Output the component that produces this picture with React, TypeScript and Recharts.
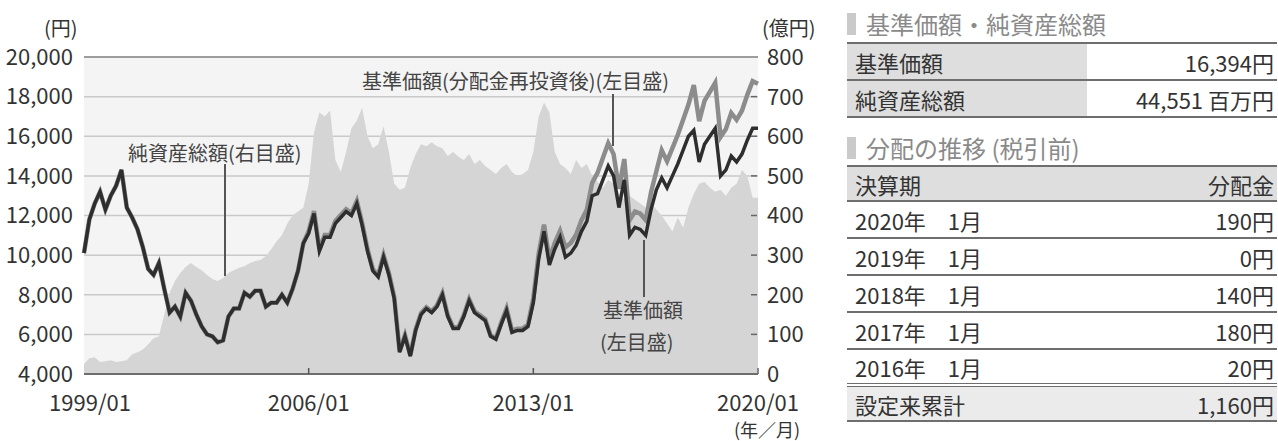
import React from 'react';
import {
  ComposedChart,
  Area,
  Line,
  XAxis,
  YAxis,
  CartesianGrid,
  ReferenceLine,
} from 'recharts';

const FONT = '"Noto Sans CJK JP", "Noto Sans", sans-serif';

// 隔月 (1,3,5,7,9,11月) 1999/01 〜 2020/01
const months: string[] = [];
for (let y = 1999; y <= 2020; y++) {
  for (const m of ['01', '03', '05', '07', '09', '11']) {
    if (y === 2020 && m !== '01') break;
    months.push(`${y}/${m}`);
  }
}

// 基準価額 (円)
const nav = [
  10100, 11800, 12600, 13200, 12300, 13000,
  13500, 14300, 12400, 11900, 11300, 10400,
  9300, 9000, 9600, 8300, 7100, 7400,
  6900, 8100, 7700, 7000, 6400, 6000,
  5900, 5600, 5700, 6900, 7300, 7300,
  8100, 7900, 8200, 8200, 7400, 7600,
  7600, 8000, 7600, 8300, 9200, 10600,
  11100, 12100, 10200, 10900, 10900, 11600,
  11900, 12200, 12000, 12600, 11500, 10200,
  9200, 8900, 9900, 9000, 7800, 5100,
  5900, 4900, 6200, 7000, 7300, 7100,
  7400, 8000, 6900, 6300, 6300, 6900,
  7700, 7100, 6900, 6700, 5900, 5750,
  6500, 7200, 6100, 6200, 6200, 6400,
  7600, 9800, 11200, 9500, 10300, 10900,
  9900, 10100, 10500, 11200, 11700, 13000,
  13100, 13800, 14500, 14000, 12400, 13800,
  11000, 11400, 11300, 11000, 12300, 13300,
  13900, 13400, 14000, 14600, 15300, 16000,
  16300, 14700, 15600, 16000, 16400, 14000,
  14300, 15000, 14700, 15100, 15800, 16400,
  16400,
];

// 基準価額 (分配金再投資後) (円)
const navReinvested = [
  10100, 11800, 12600, 13200, 12300, 13000,
  13500, 14300, 12400, 11900, 11300, 10400,
  9300, 9000, 9600, 8300, 7100, 7400,
  6900, 8100, 7700, 7000, 6400, 6000,
  5900, 5600, 5700, 6900, 7300, 7300,
  8100, 7900, 8200, 8200, 7400, 7600,
  7600, 8000, 7600, 8300, 9200, 10600,
  11210, 12220, 10300, 11010, 11010, 11720,
  12020, 12320, 12120, 12730, 11620, 10300,
  9290, 8990, 10000, 9090, 7880, 5150,
  5960, 4950, 6260, 7070, 7370, 7170,
  7470, 8080, 6970, 6360, 6360, 6970,
  7780, 7170, 6970, 6770, 5960, 5810,
  6600, 7310, 6190, 6290, 6290, 6500,
  7830, 10090, 11540, 9790, 10610, 11230,
  10400, 10610, 11030, 11760, 12290, 13650,
  14150, 14900, 15650, 15100, 13350, 14850,
  11770, 12200, 12090, 11770, 13160, 14230,
  15290, 14740, 15400, 16060, 16830, 17600,
  18580, 16760, 17780, 18240, 18700, 15960,
  16370, 17180, 16830, 17290, 18090, 18780,
  18650,
];

// 純資産総額 (億円)
const netAssets = [
  25, 40, 42, 30, 32, 35,
  30, 32, 35, 50, 55, 62,
  75, 90, 95, 150, 205, 235,
  255, 270, 280, 270, 262, 250,
  240, 235, 242, 255, 262, 268,
  272, 280, 285, 288, 298, 315,
  335, 350, 380, 400, 410, 420,
  480, 610, 660, 650, 665, 540,
  510, 560, 620, 640, 672, 600,
  570, 580, 625, 560, 480, 465,
  470, 520, 555, 580, 575, 585,
  575, 570, 550, 560, 548, 540,
  555, 530, 540, 525, 515, 505,
  520, 530, 510, 500, 505, 515,
  560, 650, 685, 660, 560, 530,
  520, 505, 540, 520, 530, 500,
  485, 470, 490, 480, 455, 440,
  450, 440, 430, 420, 430, 415,
  400, 380, 360, 395, 370, 420,
  455, 480, 485, 470, 460, 465,
  450, 470, 480, 515, 500, 445,
  445,
];

const leftTicks = [4000, 6000, 8000, 10000, 12000, 14000, 16000, 18000, 20000];
const rightTicks = [0, 100, 200, 300, 400, 500, 600, 700, 800];

const summaryLabels = ['基準価額', '純資産総額'];
const summaryValues = ['16,394円', '44,551 百万円'];

const distPeriods = ['2020年\u30001月', '2019年\u30001月', '2018年\u30001月', '2017年\u30001月', '2016年\u30001月'];
const distAmounts = ['190円', '0円', '140円', '180円', '20円'];
const distTotalLabel = '設定来累計';
const distTotal = '1,160円';

const data = months.map((month, i) => ({
  month,
  nav: nav[i],
  reinvested: navReinvested[i],
  assets: netAssets[i],
}));

const TEXT = '#333';
const LINE = '#6e6e6e';

const XTick = (props: any) => {
  const { x, y, payload } = props;
  const v = payload.value as string;
  const dx = v === '1999/01' ? 6 : 0;
  const inner = v === '2006/01' || v === '2013/01';
  return (
    <g>
      {inner && <line x1={x} x2={x} y1={y - 6} y2={y} stroke="#555" strokeWidth={1.5} />}
      <text x={x + dx} y={y + 37} textAnchor="middle" fontSize={22} fill={TEXT} fontFamily={FONT}>
        {v}
      </text>
    </g>
  );
};

const RightTick = (props: any) => {
  const { x, y, payload } = props;
  const v = payload.value as number;
  return (
    <g>
      {v > 0 && v < 800 && <line x1={x - 7} x2={x - 1} y1={y} y2={y} stroke="#666" strokeWidth={1.5} />}
      {v === 0 && <line x1={x} x2={x} y1={y - 6} y2={y} stroke="#666" strokeWidth={1.5} />}
      <text x={x + 9} y={y} dy="0.36em" fontSize={22} fill={TEXT} fontFamily={FONT}>
        {v}
      </text>
    </g>
  );
};

const abs = (left: number, top: number, extra: React.CSSProperties = {}): React.CSSProperties => ({
  position: 'absolute',
  left,
  top,
  whiteSpace: 'nowrap',
  ...extra,
});

const note: React.CSSProperties = { fontSize: 20, color: '#444', lineHeight: '26px' };

const Leader = ({ x, y1, y2 }: { x: number; y1: number; y2: number }) => (
  <div style={abs(x, y1, { width: 1.5, height: y2 - y1, background: '#555' })} />
);

const SectionTitle = ({ top, text }: { top: number; text: string }) => (
  <div style={abs(0, top, { display: 'flex', alignItems: 'center', height: 26 })}>
    <div style={{ width: 9, height: 22, background: '#cacaca', marginRight: 10 }} />
    <span style={{ fontSize: 24, color: '#8a8a8a', lineHeight: '26px' }}>{text}</span>
  </div>
);

const cell: React.CSSProperties = {
  fontSize: 22,
  color: TEXT,
  display: 'flex',
  alignItems: 'center',
  boxSizing: 'border-box',
};

export default function App() {
  return (
    <div style={abs(0, 0, { width: 1278, height: 441, background: '#fff', fontFamily: FONT, overflow: 'hidden' })}>
      <ComposedChart
        width={830}
        height={441}
        data={data}
        margin={{ top: 57, right: 0, left: 0, bottom: 37 }}
        style={{ fontFamily: FONT }}
      >
        <CartesianGrid
          yAxisId="left"
          vertical={false}
          stroke="#c9c9c9"
          strokeWidth={1.5}
          fill="#f4f4f4"
          fillOpacity={1}
        />
        <XAxis
          dataKey="month"
          interval={41}
          height={30}
          tickSize={0}
          tickMargin={0}
          tickLine={false}
          axisLine={{ stroke: LINE, strokeWidth: 2 }}
          tick={<XTick />}
        />
        <YAxis
          yAxisId="left"
          domain={[4000, 20000]}
          ticks={leftTicks}
          width={84}
          tickSize={0}
          tickMargin={11}
          tickLine={false}
          axisLine={false}
          tickFormatter={(v: number) => v.toLocaleString('en-US')}
          tick={{ fontSize: 22, fill: TEXT, fontFamily: FONT }}
          allowDataOverflow
        />
        <YAxis
          yAxisId="right"
          orientation="right"
          domain={[0, 800]}
          ticks={rightTicks}
          width={72}
          tickSize={0}
          tickMargin={0}
          tickLine={false}
          axisLine={false}
          tick={<RightTick />}
          allowDataOverflow
        />
        <Area
          yAxisId="right"
          type="linear"
          dataKey="assets"
          stroke="none"
          fill="#d5d5d5"
          fillOpacity={1}
          isAnimationActive={false}
        />
        <ReferenceLine yAxisId="left" y={20000} stroke="#8a8a8a" strokeWidth={1.5} />
        <Line
          yAxisId="left"
          type="linear"
          dataKey="reinvested"
          stroke="#8c8c8c"
          strokeWidth={4.5}
          dot={false}
          isAnimationActive={false}
        />
        <Line
          yAxisId="left"
          type="linear"
          dataKey="nav"
          stroke="#2e2e2e"
          strokeWidth={3.5}
          dot={false}
          isAnimationActive={false}
        />
      </ComposedChart>

      {/* 軸の単位 */}
      <div style={abs(44, 13, { fontSize: 20, color: TEXT })}>(円)</div>
      <div style={abs(762, 13, { fontSize: 20, color: TEXT })}>(億円)</div>
      <div style={abs(734, 419, { fontSize: 18, color: TEXT, lineHeight: '20px' })}>(年／月)</div>

      {/* 注記 */}
      <div style={abs(128, 140, note)}>純資産総額(右目盛)</div>
      <Leader x={224} y1={164} y2={276} />
      <div style={abs(362, 68, note)}>基準価額(分配金再投資後)(左目盛)</div>
      <Leader x={612} y1={94} y2={146} />
      <Leader x={643} y1={240} y2={297} />
      <div style={abs(603, 297, note)}>基準価額</div>
      <div style={abs(600, 329, note)}>(左目盛)</div>

      {/* 右側の表 */}
      <div style={abs(847, 0, { width: 430, height: 441 })}>
        <SectionTitle top={11} text="基準価額・純資産総額" />
        <div style={abs(0, 42, { width: 430, borderTop: `2px solid ${LINE}` })}>
          {summaryLabels.map((label, i) => (
            <div key={label} style={{ display: 'flex', height: 37, borderBottom: `2px solid ${LINE}`, boxSizing: 'border-box' }}>
              <div style={{ ...cell, width: 240, background: '#dedede', paddingLeft: 8 }}>{label}</div>
              <div style={{ ...cell, flex: 1, justifyContent: 'flex-end', paddingRight: 3 }}>{summaryValues[i]}</div>
            </div>
          ))}
        </div>

        <SectionTitle top={135} text="分配の推移 (税引前)" />
        <div style={abs(0, 165, { width: 430, borderTop: `2px solid ${LINE}` })}>
          <div style={{ display: 'flex', height: 35, background: '#dedede', borderBottom: `2px solid ${LINE}`, boxSizing: 'border-box' }}>
            <div style={{ ...cell, flex: 1, paddingLeft: 8 }}>決算期</div>
            <div style={{ ...cell, justifyContent: 'flex-end', paddingRight: 3 }}>分配金</div>
          </div>
          {distPeriods.map((p, i) => (
            <div
              key={p}
              style={{
                display: 'flex',
                height: 37,
                borderBottom: i === distPeriods.length - 1 ? `4px double ${LINE}` : `2px solid ${LINE}`,
                boxSizing: 'border-box',
              }}
            >
              <div style={{ ...cell, flex: 1, paddingLeft: 8 }}>{p}</div>
              <div style={{ ...cell, justifyContent: 'flex-end', paddingRight: 3 }}>{distAmounts[i]}</div>
            </div>
          ))}
          <div style={{ display: 'flex', height: 35, background: '#ebebeb', borderBottom: `2px solid ${LINE}`, boxSizing: 'border-box' }}>
            <div style={{ ...cell, flex: 1, paddingLeft: 8 }}>{distTotalLabel}</div>
            <div style={{ ...cell, justifyContent: 'flex-end', paddingRight: 3 }}>{distTotal}</div>
          </div>
        </div>
      </div>
    </div>
  );
}
